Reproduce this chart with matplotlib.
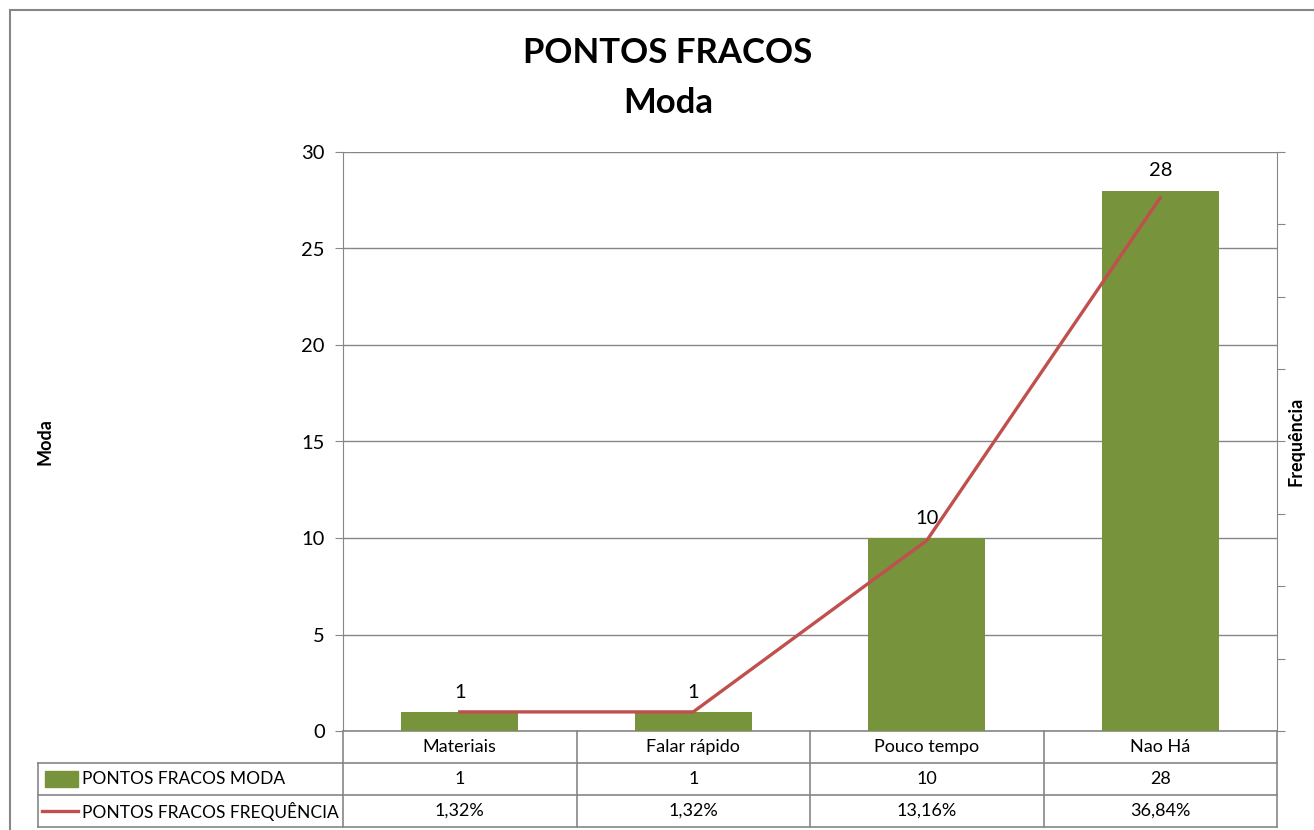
import numpy as np
from matplotlib import pyplot as plt
from matplotlib import transforms
from matplotlib.patches import Rectangle
from matplotlib.lines import Line2D

plt.rcParams['font.family'] = ['Lato', 'DejaVu Sans']

# data
categories = ["Materiais", "Falar rápido", "Pouco tempo", "Nao Há"]
moda = [1, 1, 10, 28]
frequencia = [0.0132, 0.0132, 0.1316, 0.3684]
freq_labels = ["1,32%", "1,32%", "13,16%", "36,84%"]
series_names = ["PONTOS FRACOS MODA", "PONTOS FRACOS FREQUÊNCIA"]

green = "#77933C"
red = "#C0504D"
gridc = "#868686"

W, H = 1314, 830
fig = plt.figure(figsize=(W / 100, H / 100), dpi=100)

# plot area in pixels
left, right, top, bottom = 343, 1277, 152, 731
ax = fig.add_axes([left / W, (H - bottom) / H, (right - left) / W, (bottom - top) / H])
ax2 = ax.twinx()

x = np.arange(len(categories))
ax.bar(x, moda, width=0.5, color=green, zorder=3)
ax.set_xlim(-0.5, len(categories) - 0.5)
ax.set_ylim(0, 30)
ax.set_yticks(np.arange(0, 31, 5))
ax.yaxis.grid(True, color=gridc, linewidth=1)
ax.set_axisbelow(True)
ax.tick_params(axis='y', labelsize=14.5, length=6, color=gridc, pad=7)
ax.set_xticks([])
for s in ['top', 'bottom', 'right']:
    ax.spines[s].set_visible(False)
ax.spines['left'].set_color(gridc)

for xi, v in zip(x, moda):
    ax.annotate(str(v), (xi, v), xytext=(0, 8), textcoords='offset points',
                ha='center', va='bottom', fontsize=14.5)

ax2.plot(x, frequencia, color=red, linewidth=2.4, zorder=4)
ax2.set_ylim(0, 0.4)
ax2.set_yticks(np.arange(0, 0.401, 0.05))
ax2.set_yticklabels([])
ax2.tick_params(axis='y', length=6, color=gridc)
for s in ['top', 'bottom', 'left']:
    ax2.spines[s].set_visible(False)
ax2.spines['right'].set_color(gridc)

# data table below the plot
tr = transforms.blended_transform_factory(ax.transData, ax.transAxes)
row_h = 32 / (bottom - top)
leg_left = (38 - left) / (right - left)
lk = dict(color=gridc, linewidth=1.2, clip_on=False)

ax.plot([-0.5, 3.5], [0, 0], transform=tr, **lk)
for r in (1, 2, 3):
    ax.plot([leg_left, 1], [-r * row_h, -r * row_h], transform=ax.transAxes, **lk)
for b in np.arange(-0.5, 3.6, 1):
    ax.plot([b, b], [0, -3 * row_h], transform=tr, **lk)
ax.plot([leg_left, leg_left], [-row_h, -3 * row_h], transform=ax.transAxes, **lk)

for xi, c, m, f in zip(x, categories, moda, freq_labels):
    ax.text(xi, -0.5 * row_h, c, transform=tr, ha='center', va='center', fontsize=13)
    ax.text(xi, -1.5 * row_h, str(m), transform=tr, ha='center', va='center', fontsize=13)
    ax.text(xi, -2.5 * row_h, f, transform=tr, ha='center', va='center', fontsize=13)

# legend keys inside the table
fig.patches.append(Rectangle((45 / W, (H - 787) / H), 33 / W, 16 / H,
                             transform=fig.transFigure, color=green))
fig.lines.append(Line2D([42 / W, 78 / W], [(H - 811) / H] * 2,
                        transform=fig.transFigure, color=red, linewidth=2.4))
fig.text(82 / W, (H - 779) / H, series_names[0], ha='left', va='center', fontsize=12.5)
fig.text(82 / W, (H - 811) / H, series_names[1], ha='left', va='center', fontsize=12.5)

# titles and axis labels
fig.text(668 / W, (H - 53) / H, "PONTOS FRACOS", ha='center', va='center',
         fontsize=25, fontweight='bold')
fig.text(668 / W, (H - 103) / H, "Moda", ha='center', va='center',
         fontsize=25, fontweight='bold')
fig.text(45 / W, (H - 442) / H, "Moda", rotation=90, ha='center', va='center',
         fontsize=13, fontweight='bold')
fig.text(1296 / W, (H - 441) / H, "Frequência", rotation=90, ha='center', va='center',
         fontsize=13, fontweight='bold')

# chart frame
fig.patches.append(Rectangle((10 / W, -0.05), 1.1, (H - 10) / H + 0.05,
                             transform=fig.transFigure, fill=False,
                             edgecolor=gridc, linewidth=1.5))

plt.savefig("out.png", dpi=100)
